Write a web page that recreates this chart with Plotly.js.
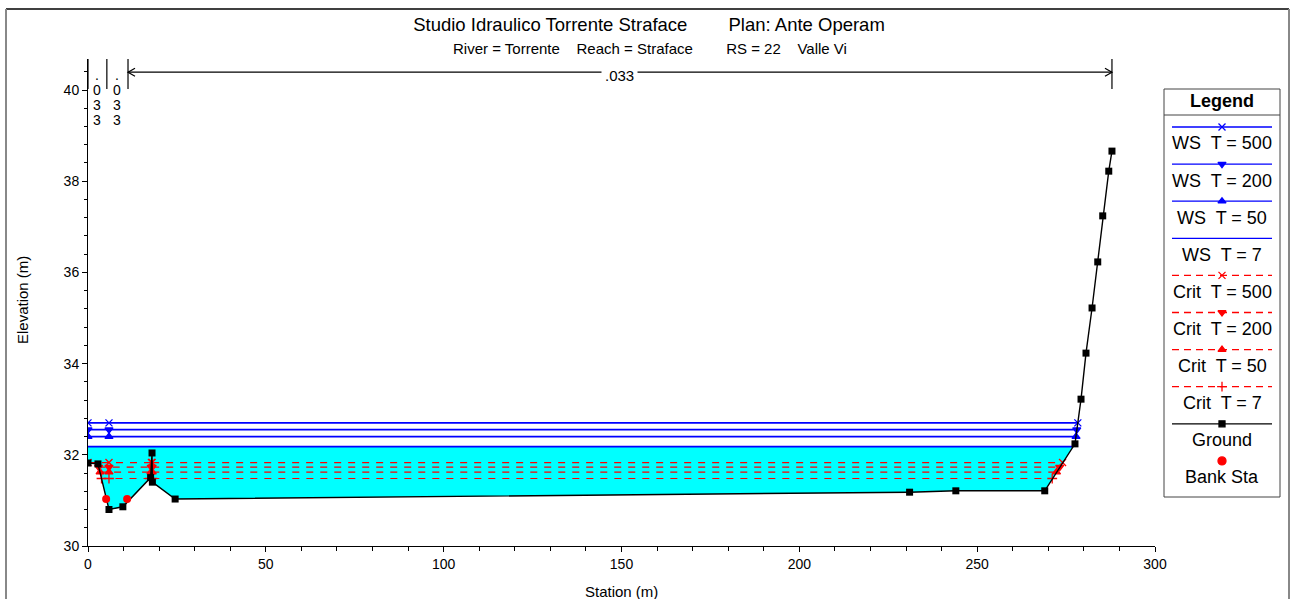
<!DOCTYPE html>
<html>
<head>
<meta charset="utf-8">
<script src="https://cdn.plot.ly/plotly-3.0.1.min.js"></script>
<style>html,body{margin:0;padding:0;background:#fff;}#chart{width:1291px;height:599px;}</style>
</head>
<body>
<div id="chart"></div>
<script>
// ---------------- DATA ----------------
const groundStation = [0, 2.8, 5.9, 9.8, 17.6, 18.0, 18.1, 24.5, 231.0, 244.0, 269.0, 277.5, 279.2, 280.6, 282.3, 283.9, 285.3, 287.0, 287.9];
const groundElev    = [31.82, 31.80, 30.80, 30.86, 31.50, 32.04, 31.40, 31.03, 31.18, 31.21, 31.21, 32.24, 33.22, 34.23, 35.22, 36.23, 37.24, 38.22, 38.66];

const bankStation = [5.1, 11.0];
const bankElev    = [31.03, 31.03];

const wsNames   = ['WS  T = 500', 'WS  T = 200', 'WS  T = 50', 'WS  T = 7'];
const wsElev    = [32.70, 32.55, 32.40, 32.18];
const wsStart   = [0, 0, 0, 0];
const wsMid     = [5.9, 5.9, 5.9, 5.9];
const wsEnd     = [278.3, 278.0, 277.8, 277.0];

const critNames  = ['Crit  T = 500', 'Crit  T = 200', 'Crit  T = 50', 'Crit  T = 7'];
const critElev   = [31.83, 31.73, 31.62, 31.48];
const critStart  = [0, 3.0, 3.4, 3.8];
const critMid    = [5.9, 5.9, 5.9, 5.9];
const critMoundL = [17.84, 17.77, 17.69, 17.36];
const critMoundR = [18.03, 18.05, 18.07, 18.09];
const critEnd    = [274.0, 273.2, 272.3, 271.1];

const nStations = [0, 5.3, 11.25, 287.9];
const nValues   = ['.033', '.033', '.033'];

const xTicks = [0, 50, 100, 150, 200, 250, 300];
const yTicks = [30, 32, 34, 36, 38, 40];

// ---------------- LAYOUT HELPERS ----------------
const W = 1291, H = 599;
const px = x => x / W;
const py = y => 1 - y / H;
const FONT = 'Liberation Sans, Arial, sans-serif';
const NB = n => '\u00a0'.repeat(n);

const wsStyle = [
  {symbol: 'x-thin-open', size: 7},
  {symbol: 'triangle-down', size: 7},
  {symbol: 'triangle-up', size: 7},
  null
];
const critStyle = [
  {symbol: 'x-thin-open', size: 7},
  {symbol: 'triangle-down', size: 7},
  {symbol: 'triangle-up', size: 7},
  {symbol: 'cross-thin-open', size: 7}
];
const BLUE = '#0000FF', RED = '#FF0000', CYAN = '#00FFFF';

const traces = [];

// water fill (WS T = 7 down to ground)
const wetIdx = groundStation.map((s, i) => i).filter(i => groundStation[i] <= 269.0);
traces.push({
  x: wetIdx.map(i => groundStation[i]).concat([wsEnd[3], wsStart[3]]),
  y: wetIdx.map(i => groundElev[i]).concat([wsElev[3], wsElev[3]]),
  mode: 'lines', fill: 'toself', fillcolor: CYAN, line: {width: 0, color: CYAN},
  hoverinfo: 'skip', showlegend: false
});

// WS lines
wsNames.forEach((n, i) => {
  const st = wsStyle[i];
  const t = {
    name: n,
    x: [wsStart[i], wsMid[i], wsEnd[i]],
    y: [wsElev[i], wsElev[i], wsElev[i]],
    mode: st ? 'lines+markers' : 'lines',
    line: {color: BLUE, width: 1.7},
    showlegend: false
  };
  if (st) t.marker = {symbol: st.symbol, size: st.size, color: BLUE, line: {color: BLUE, width: 1.3}};
  traces.push(t);
});

// Crit lines
critNames.forEach((n, i) => {
  const st = critStyle[i];
  const e = critElev[i];
  traces.push({
    name: n,
    x: [critStart[i], critMid[i], critMoundL[i], null, critMoundR[i], critEnd[i]],
    y: [e, e, e, null, e, e],
    mode: 'lines+markers', connectgaps: false,
    line: {color: RED, width: 1.2, dash: '7px,7px'},
    marker: {symbol: st.symbol, size: st.size, color: RED, line: {color: RED, width: 1.3}},
    showlegend: false
  });
});

// Ground
traces.push({
  name: 'Ground', x: groundStation, y: groundElev,
  mode: 'lines+markers', line: {color: '#000', width: 1.4},
  marker: {symbol: 'square', size: 7, color: '#000'}, showlegend: false
});

// Bank stations
traces.push({
  name: 'Bank Sta', x: bankStation, y: bankElev,
  mode: 'markers', marker: {symbol: 'circle', size: 8, color: RED}, showlegend: false
});

// ---------------- LEGEND (drawn in pixel overlay axes) ----------------
const legNames = wsNames.concat(critNames, ['Ground', 'Bank Sta']);
const legStyles = [];
wsNames.forEach((n, i) => legStyles.push({color: BLUE, dash: 'solid', mk: wsStyle[i], line: true}));
critNames.forEach((n, i) => legStyles.push({color: RED, dash: '7px,5px', mk: critStyle[i], line: true}));
legStyles.push({color: '#000', dash: 'solid', mk: {symbol: 'square', size: 6}, line: true});
legStyles.push({color: RED, dash: 'solid', mk: {symbol: 'circle', size: 8}, line: false});

const LX0 = 1172, LX1 = 1272, LXM = 1222, LY0 = 127, LSTEP = 37.1, LTXT = 16.5;
const annotations = [];
legNames.forEach((n, i) => {
  const s = legStyles[i];
  const ly = LY0 + i * LSTEP;
  if (s.line) {
    traces.push({
      x: [LX0, LX1], y: [ly, ly], xaxis: 'x2', yaxis: 'y2', mode: 'lines',
      line: {color: s.color, width: 1.3, dash: s.dash}, hoverinfo: 'skip', showlegend: false
    });
  }
  if (s.mk) {
    traces.push({
      x: [LXM], y: [ly], xaxis: 'x2', yaxis: 'y2', mode: 'markers',
      marker: {symbol: s.mk.symbol, size: s.mk.size, color: s.color, line: {color: s.color, width: 1.3}},
      hoverinfo: 'skip', showlegend: false
    });
  }
  annotations.push({
    xref: 'paper', yref: 'paper', x: px(LXM), y: py(ly + LTXT),
    text: n.replace(/  /g, '\u00a0 '), showarrow: false, xanchor: 'center', yanchor: 'middle',
    font: {family: FONT, size: 18, color: '#000'}
  });
});
annotations.push({
  xref: 'paper', yref: 'paper', x: px(1222), y: py(101), text: '<b>Legend</b>',
  showarrow: false, xanchor: 'center', yanchor: 'middle', font: {family: FONT, size: 18, color: '#000'}
});

// subtitle
annotations.push({
  xref: 'paper', yref: 'paper', x: px(650), y: py(48),
  text: 'River = Torrente' + NB(4) + 'Reach = Straface' + NB(8) + 'RS = 22' + NB(4) + 'Valle Vi',
  showarrow: false, xanchor: 'center', yanchor: 'middle', font: {family: FONT, size: 15, color: '#000'}
});

// axis titles
annotations.push({
  xref: 'paper', yref: 'paper', x: px(22), y: py(300), text: 'Elevation (m)', textangle: -90,
  showarrow: false, xanchor: 'center', yanchor: 'middle', font: {family: FONT, size: 15, color: '#000'}
});
annotations.push({
  xref: 'paper', yref: 'paper', x: px(621), y: py(591), text: 'Station (m)',
  showarrow: false, xanchor: 'center', yanchor: 'middle', font: {family: FONT, size: 15, color: '#000'}
});

// Manning's n annotations
const nTop = 40.68, nBot = 40.02, nArrowY = 40.39;
const shapes = [];
nStations.forEach(s => {
  shapes.push({type: 'line', xref: 'x', yref: 'y', x0: s, x1: s, y0: nBot, y1: nTop, line: {color: '#000', width: 1.2}});
});
nValues.forEach((v, i) => {
  const mid = (nStations[i] + nStations[i + 1]) / 2;
  if (i < nValues.length - 1) {
    v.split('').forEach((ch, k) => {
      annotations.push({
        xref: 'x', yref: 'paper', x: mid, y: py(75 + k * 15), text: ch,
        showarrow: false, xanchor: 'center', yanchor: 'middle', font: {family: FONT, size: 14, color: '#000'}
      });
    });
  } else {
    shapes.push({type: 'line', xref: 'x', yref: 'y', x0: nStations[i], x1: nStations[i + 1], y0: nArrowY, y1: nArrowY, line: {color: '#000', width: 1.2}});
    shapes.push({type: 'path', xref: 'x', yref: 'y', xsizemode: 'pixel', ysizemode: 'pixel', xanchor: nStations[i], yanchor: nArrowY, path: 'M7,4L0,0L7,-4', line: {color: '#000', width: 1.2}});
    shapes.push({type: 'path', xref: 'x', yref: 'y', xsizemode: 'pixel', ysizemode: 'pixel', xanchor: nStations[i + 1], yanchor: nArrowY, path: 'M-7,4L0,0L-7,-4', line: {color: '#000', width: 1.2}});
    annotations.push({
      xref: 'x', yref: 'paper', x: mid, y: py(76), text: v, bgcolor: '#fff', borderpad: 3,
      showarrow: false, xanchor: 'center', yanchor: 'middle', font: {family: FONT, size: 15, color: '#000'}
    });
  }
});

// legend box + frame
shapes.push({type: 'rect', xref: 'paper', yref: 'paper', x0: px(1164), x1: px(1280), y0: py(89), y1: py(497), line: {color: '#444', width: 1}, fillcolor: 'rgba(0,0,0,0)', layer: 'below'});
shapes.push({type: 'line', xref: 'paper', yref: 'paper', x0: px(1164), x1: px(1280), y0: py(115), y1: py(115), line: {color: '#444', width: 1}});
shapes.push({type: 'line', xref: 'paper', yref: 'paper', x0: px(6), x1: px(1289), y0: py(9), y1: py(9), line: {color: '#000', width: 1.5}});
shapes.push({type: 'line', xref: 'paper', yref: 'paper', x0: px(6), x1: px(6), y0: py(9), y1: 0, line: {color: '#888', width: 2}});
shapes.push({type: 'line', xref: 'paper', yref: 'paper', x0: px(1289), x1: px(1289), y0: py(9), y1: 0, line: {color: '#888', width: 2}});

const axisCommon = {
  showgrid: false, zeroline: false, showline: true, linecolor: '#000', linewidth: 1,
  ticks: 'outside', ticklen: 5, tickwidth: 1, tickcolor: '#000',
  tickfont: {family: FONT, size: 14, color: '#000'}, fixedrange: true
};

const layout = {
  width: W, height: H,
  margin: {l: 0, r: 0, t: 0, b: 0, pad: 0},
  paper_bgcolor: '#fff', plot_bgcolor: 'rgba(0,0,0,0)',
  showlegend: false,
  title: {
    text: 'Studio Idraulico Torrente Straface' + NB(8) + 'Plan: Ante Operam',
    font: {family: FONT, size: 18.5, color: '#000'},
    x: px(649), xanchor: 'center', xref: 'paper', y: py(25), yref: 'container', yanchor: 'middle'
  },
  xaxis: Object.assign({}, axisCommon, {
    domain: [px(88), px(1155)], range: [0, 300], tickvals: xTicks, ticktext: xTicks.map(String),
    minor: {dtick: 10, ticks: 'outside', ticklen: 4, tickcolor: '#000', showgrid: false},
    anchor: 'y'
  }),
  yaxis: Object.assign({}, axisCommon, {
    domain: [py(546), py(59)], range: [30, 40.68], tickvals: yTicks, ticktext: yTicks.map(String),
    minor: {dtick: 0.4, tick0: 30, ticks: 'outside', ticklen: 3, tickcolor: '#000', showgrid: false},
    anchor: 'x'
  }),
  xaxis2: {domain: [0, 1], range: [0, W], visible: false, anchor: 'y2', fixedrange: true},
  yaxis2: {domain: [0, 1], range: [H, 0], visible: false, anchor: 'x2', fixedrange: true},
  shapes: shapes,
  annotations: annotations
};

Plotly.newPlot('chart', traces, layout, {displayModeBar: false, staticPlot: true});
</script>
</body>
</html>
